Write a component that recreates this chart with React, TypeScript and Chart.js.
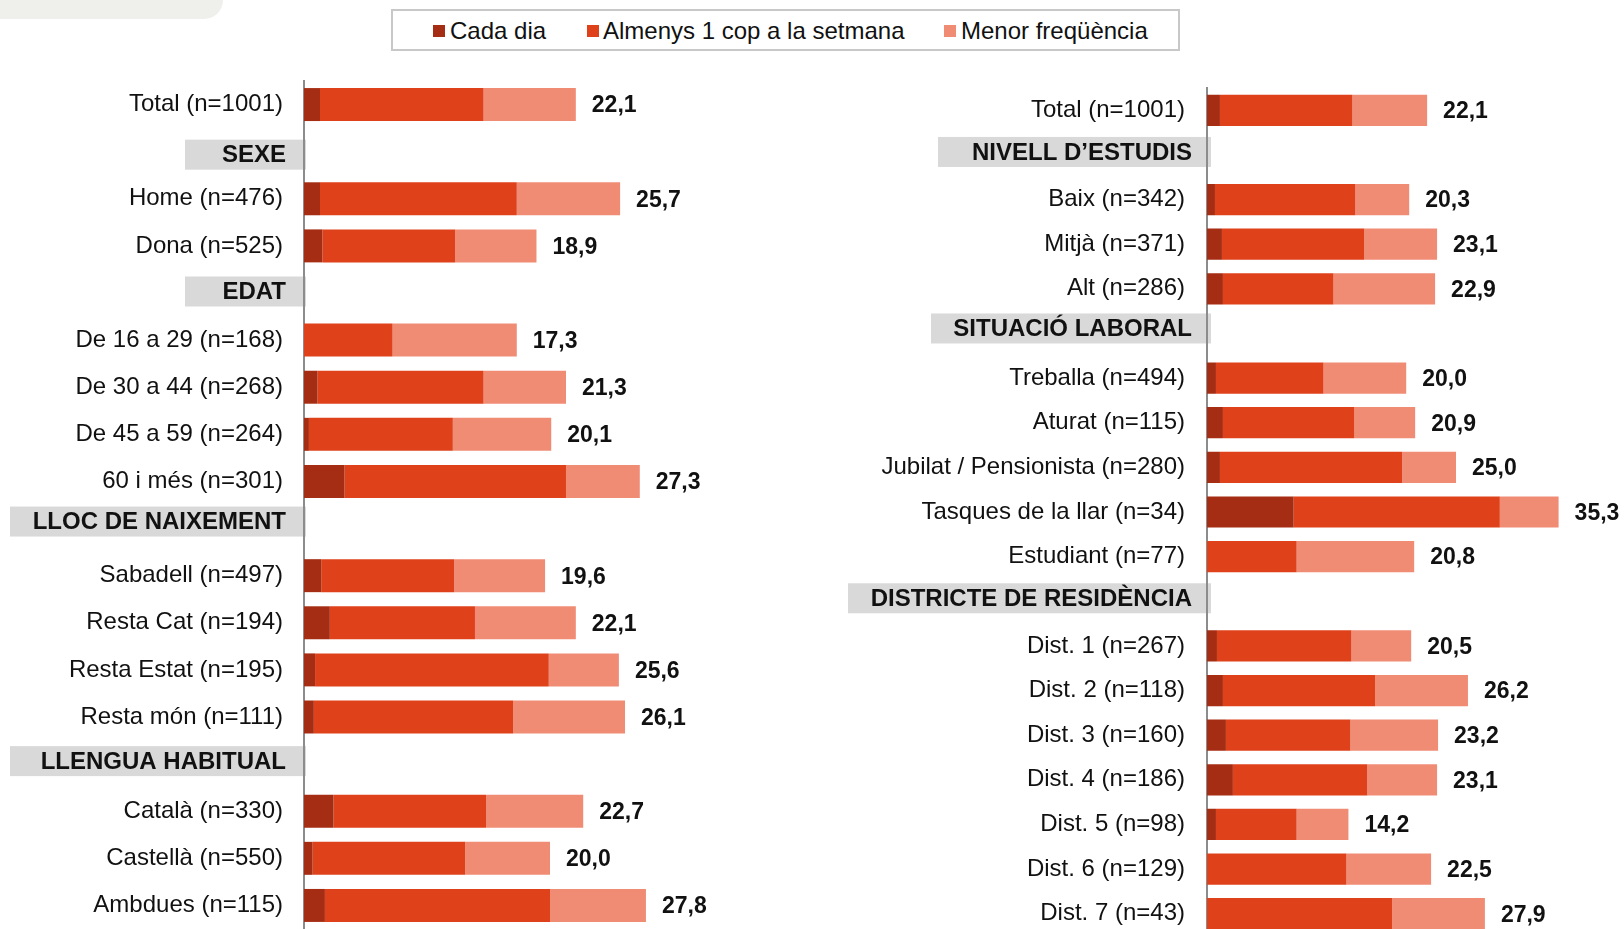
import React, { useEffect, useRef } from 'react';
import { Chart, registerables } from 'chart.js';

Chart.register(...registerables);

// ---------- DATA ----------
const seriesNames = ['Cada dia', 'Almenys 1 cop a la setmana', 'Menor freqüència'];

const leftCategories = [
  'Total (n=1001)', 'SEXE', 'Home (n=476)', 'Dona (n=525)', 'EDAT',
  'De 16 a 29 (n=168)', 'De 30 a 44 (n=268)', 'De 45 a 59 (n=264)', '60 i més (n=301)',
  'LLOC DE NAIXEMENT', 'Sabadell (n=497)', 'Resta Cat (n=194)', 'Resta Estat (n=195)', 'Resta món (n=111)',
  'LLENGUA HABITUAL', 'Català (n=330)', 'Castellà (n=550)', 'Ambdues (n=115)',
];
const leftCadaDia = [1.3, null, 1.3, 1.5, null, 0, 1.1, 0.4, 3.3, null, 1.4, 2.1, 0.9, 0.8, null, 2.4, 0.7, 1.7];
const leftAlmenys = [13.3, null, 16.0, 10.8, null, 7.2, 13.5, 11.7, 18.0, null, 10.8, 11.8, 19.0, 16.2, null, 12.4, 12.4, 18.3];
const leftMenor = [7.5, null, 8.4, 6.6, null, 10.1, 6.7, 8.0, 6.0, null, 7.4, 8.2, 5.7, 9.1, null, 7.9, 6.9, 7.8];
const leftTotals = [22.1, null, 25.7, 18.9, null, 17.3, 21.3, 20.1, 27.3, null, 19.6, 22.1, 25.6, 26.1, null, 22.7, 20.0, 27.8];

const rightCategories = [
  'Total (n=1001)', 'NIVELL D\u2019ESTUDIS', 'Baix (n=342)', 'Mitjà (n=371)', 'Alt (n=286)',
  'SITUACIÓ LABORAL', 'Treballa (n=494)', 'Aturat (n=115)', 'Jubilat / Pensionista (n=280)',
  'Tasques de la llar (n=34)', 'Estudiant (n=77)',
  'DISTRICTE DE RESIDÈNCIA', 'Dist. 1 (n=267)', 'Dist. 2 (n=118)', 'Dist. 3 (n=160)', 'Dist. 4 (n=186)',
  'Dist. 5 (n=98)', 'Dist. 6 (n=129)', 'Dist. 7 (n=43)',
];
const rightCadaDia = [1.3, null, 0.8, 1.5, 1.6, null, 0.9, 1.6, 1.3, 8.7, 0, null, 1.0, 1.6, 1.9, 2.6, 0.9, 0, 0];
const rightAlmenys = [13.3, null, 14.1, 14.3, 11.1, null, 10.8, 13.2, 18.3, 20.7, 9.0, null, 13.5, 15.3, 12.5, 13.5, 8.1, 14.0, 18.6];
const rightMenor = [7.5, null, 5.4, 7.3, 10.2, null, 8.3, 6.1, 5.4, 5.9, 11.8, null, 6.0, 9.3, 8.8, 7.0, 5.2, 8.5, 9.3];
const rightTotals = [22.1, null, 20.3, 23.1, 22.9, null, 20.0, 20.9, 25.0, 35.3, 20.8, null, 20.5, 26.2, 23.2, 23.1, 14.2, 22.5, 27.9];

// ---------- STYLE ----------
const COLORS = ['#A52D13', '#DF421B', '#F08B74'];
const FONT = '"Liberation Sans", Arial, Helvetica, sans-serif';
const TEXT = '#111111';

type HeaderStyle = { index: number; boxLeft: number; dy: number };

const decorPlugin = {
  id: 'panelDecor',
  beforeDraw(chart: any, _args: any, opts: any) {
    const ctx = chart.ctx;
    const y = chart.scales.y;
    const axisX = chart.chartArea.left;
    const cats = chart.data.labels as string[];
    (opts.headers as HeaderStyle[]).forEach((h) => {
      const cy = y.getPixelForValue(h.index) + h.dy;
      ctx.save();
      ctx.fillStyle = '#D9D9D9';
      ctx.fillRect(h.boxLeft, cy - 15, axisX + opts.boxOver - h.boxLeft, 30);
      ctx.fillStyle = TEXT;
      ctx.font = `bold 24px ${FONT}`;
      ctx.textAlign = 'right';
      ctx.textBaseline = 'middle';
      ctx.fillText(cats[h.index], axisX - opts.headerGap, cy + 1);
      ctx.restore();
    });
  },
  afterDatasetsDraw(chart: any, _args: any, opts: any) {
    const ctx = chart.ctx;
    const x = chart.scales.x;
    const y = chart.scales.y;
    ctx.save();
    ctx.fillStyle = TEXT;
    ctx.font = `bold 23px ${FONT}`;
    ctx.textAlign = 'left';
    ctx.textBaseline = 'middle';
    (opts.totals as (number | null)[]).forEach((t, i) => {
      if (t === null || t === undefined) return;
      const px = x.getPixelForValue(t) + 16;
      const py = y.getPixelForValue(i) + 1.5;
      ctx.fillText(t.toFixed(1).replace('.', ','), px, py);
    });
    ctx.restore();
  },
};

type PanelProps = {
  categories: string[];
  cada: (number | null)[];
  alm: (number | null)[];
  men: (number | null)[];
  totals: (number | null)[];
  headers: HeaderStyle[];
  left: number;
  width: number;
  height: number;
  axisWidth: number;
  padTop: number;
  padRight: number;
  tickPad: number;
  headerGap: number;
  boxOver: number;
};

function Panel(p: PanelProps) {
  const ref = useRef<HTMLCanvasElement | null>(null);
  useEffect(() => {
    if (!ref.current) return;
    const headerSet = new Set(p.headers.map((h) => h.index));
    const chart = new Chart(ref.current, {
      type: 'bar',
      data: {
        labels: p.categories,
        datasets: [
          { label: seriesNames[0], data: p.cada as any, backgroundColor: COLORS[0], borderWidth: 0 },
          { label: seriesNames[1], data: p.alm as any, backgroundColor: COLORS[1], borderWidth: 0 },
          { label: seriesNames[2], data: p.men as any, backgroundColor: COLORS[2], borderWidth: 0 },
        ],
      },
      options: {
        indexAxis: 'y',
        responsive: false,
        maintainAspectRatio: false,
        animation: false,
        events: [],
        layout: { padding: { top: p.padTop, right: p.padRight, bottom: 0, left: 0 } },
        datasets: { bar: { barPercentage: 0.7, categoryPercentage: 1 } },
        plugins: {
          legend: { display: false },
          tooltip: { enabled: false },
          panelDecor: { headers: p.headers, totals: p.totals, headerGap: p.headerGap, boxOver: p.boxOver },
        } as any,
        scales: {
          x: { stacked: true, min: 0, max: 40, display: false },
          y: {
            stacked: true,
            afterFit: (s: any) => {
              s.width = p.axisWidth;
              s.paddingTop = 0;
              s.paddingBottom = 0;
            },
            grid: { display: false, drawTicks: false },
            border: { display: true, color: '#8C8C8C', width: 2 },
            ticks: {
              autoSkip: false,
              padding: p.tickPad,
              color: TEXT,
              font: { family: FONT, size: 24 },
              callback: (_v: any, i: number) => (headerSet.has(i) ? '' : p.categories[i]),
            },
          },
        },
      },
      plugins: [decorPlugin as any],
    });
    return () => chart.destroy();
  }, []);
  return (
    <canvas
      ref={ref}
      width={p.width}
      height={p.height}
      style={{ position: 'absolute', left: p.left, top: 0, width: p.width, height: p.height }}
    />
  );
}

const legendItems = [
  { marker: 433, text: 450 },
  { marker: 587, text: 603 },
  { marker: 944, text: 961 },
];

export default function App() {
  return (
    <div
      style={{
        position: 'fixed',
        left: 0,
        top: 0,
        width: 1624,
        height: 929,
        overflow: 'hidden',
        background: '#ffffff',
        fontFamily: FONT,
      }}
    >
      <div
        style={{
          position: 'absolute',
          left: 0,
          top: 0,
          width: 223,
          height: 19,
          background: '#EFEFEB',
          borderBottomRightRadius: 20,
        }}
      />
      <Panel
        categories={leftCategories}
        cada={leftCadaDia}
        alm={leftAlmenys}
        men={leftMenor}
        totals={leftTotals}
        headers={[
          { index: 1, boxLeft: 185, dy: 3 },
          { index: 4, boxLeft: 185, dy: -1.5 },
          { index: 9, boxLeft: 10, dy: -7 },
          { index: 14, boxLeft: 10, dy: -3 },
        ]}
        left={0}
        width={812}
        height={929}
        axisWidth={304}
        padTop={81}
        padRight={16}
        tickPad={21}
        headerGap={18}
        boxOver={2}
      />
      <Panel
        categories={rightCategories}
        cada={rightCadaDia}
        alm={rightAlmenys}
        men={rightMenor}
        totals={rightTotals}
        headers={[
          { index: 1, boxLeft: 126, dy: -3 },
          { index: 5, boxLeft: 119, dy: -5 },
          { index: 11, boxLeft: 36, dy: -3 },
        ]}
        left={812}
        width={812}
        height={936}
        axisWidth={395}
        padTop={88}
        padRight={18.6}
        tickPad={22}
        headerGap={15}
        boxOver={4}
      />
      <div
        style={{
          position: 'absolute',
          left: 391,
          top: 9,
          width: 789,
          height: 42,
          border: '2px solid #C8C8C8',
          boxSizing: 'border-box',
          background: '#ffffff',
        }}
      />
      {legendItems.map((it, i) => (
        <React.Fragment key={i}>
          <div
            style={{
              position: 'absolute',
              left: it.marker,
              top: 24.5,
              width: 12,
              height: 12,
              background: COLORS[i],
            }}
          />
          <span
            style={{
              position: 'absolute',
              left: it.text,
              top: 16.5,
              fontSize: 24,
              lineHeight: '28px',
              color: TEXT,
              whiteSpace: 'nowrap',
            }}
          >
            {seriesNames[i]}
          </span>
        </React.Fragment>
      ))}
    </div>
  );
}
